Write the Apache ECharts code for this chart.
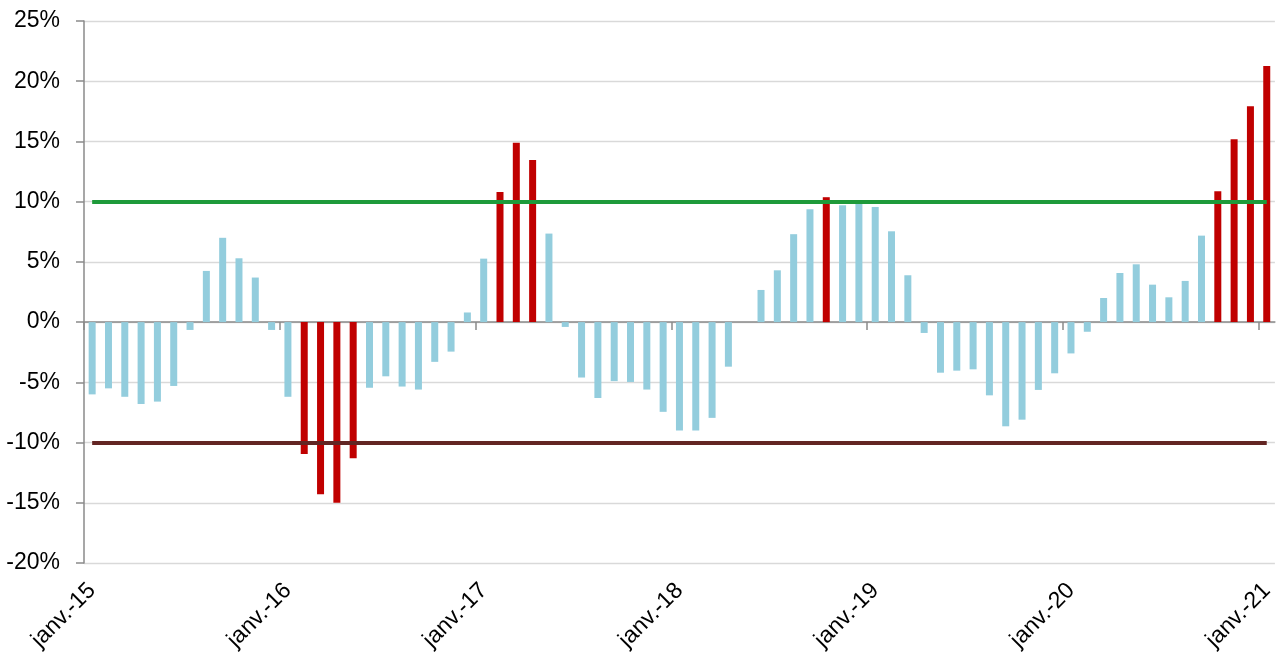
<!DOCTYPE html>
<html>
<head>
<meta charset="utf-8">
<script src="https://cdn.jsdelivr.net/npm/echarts@6/dist/echarts.min.js"></script>
<style>
html,body{margin:0;padding:0;background:#fff;}
#chart{width:1277px;height:661px;}
</style>
</head>
<body>
<div id="chart"></div>
<script>
// Categories: monthly, janv.-15 .. janv.-21
const monthNames = ['janv.','févr.','mars','avr.','mai','juin','juil.','août','sept.','oct.','nov.','déc.'];
const years = ['15','16','17','18','19','20','21'];
const categories = [];
years.forEach(function(y, yi){
  monthNames.forEach(function(m, mi){
    if (yi < years.length - 1 || mi === 0) categories.push(m + '-' + y);
  });
});

// Year-on-year change, %
const values2015 = [-6.0, -5.5, -6.2, -6.8, -6.6, -5.3, -0.65, 4.25, 7.0, 5.3, 3.7, -0.65];
const values2016 = [-6.2, -10.95, -14.3, -15.0, -11.3, -5.45, -4.5, -5.35, -5.6, -3.3, -2.45, 0.8];
const values2017 = [5.27, 10.8, 14.9, 13.45, 7.35, -0.4, -4.6, -6.3, -4.9, -4.97, -5.6, -7.45];
const values2018 = [-9.0, -9.0, -7.95, -3.7, 0, 2.67, 4.3, 7.3, 9.37, 10.37, 9.7, 9.85];
const values2019 = [9.56, 7.54, 3.89, -0.9, -4.2, -4.03, -3.92, -6.08, -8.65, -8.1, -5.63, -4.25];
const values2020 = [-2.6, -0.8, 2.0, 4.08, 4.8, 3.11, 2.06, 3.42, 7.18, 10.86, 15.18, 17.92];
const values2021 = [21.27];
const values = [].concat(values2015, values2016, values2017, values2018, values2019, values2020, values2021);

// Year boundaries (month index where each January starts) for the tick marks
const yearStartIndex = [0, 12, 24, 36, 48, 60, 72];

const upperThreshold = 10;
const lowerThreshold = -10;

const yMin = -20, yMax = 25, yInterval = 5;

const FONT = '"Liberation Sans", Arial, sans-serif';

const chart = echarts.init(document.getElementById('chart'), null, {renderer: 'canvas'});

chart.setOption({
  animation: false,
  backgroundColor: '#ffffff',
  grid: {left: 84, right: 2, top: 21, bottom: 98, containLabel: false},
  xAxis: [
    {
      type: 'category',
      data: categories,
      position: 'bottom',
      axisLine: {show: false, onZero: false},
      axisTick: {show: false},
      splitLine: {show: false},
      axisLabel: {
        interval: 11,
        rotate: 45,
        margin: 24,
        color: '#000000',
        fontFamily: FONT,
        fontSize: 23
      }
    },
    {
      type: 'value',
      min: 0,
      max: categories.length,
      interval: 12,
      position: 'bottom',
      axisLine: {show: true, onZero: true, onZeroAxisIndex: 0, lineStyle: {color: '#8a8a8a', width: 1.5}},
      axisTick: {show: true, length: 8, customValues: yearStartIndex, lineStyle: {color: '#8a8a8a', width: 1.5}},
      axisLabel: {show: false},
      splitLine: {show: false}
    }
  ],
  yAxis: {
    type: 'value',
    min: yMin,
    max: yMax,
    interval: yInterval,
    axisLine: {show: true, lineStyle: {color: '#8a8a8a', width: 1.5}},
    axisTick: {show: true, length: 8, lineStyle: {color: '#8a8a8a', width: 1.5}},
    splitLine: {show: true, lineStyle: {color: '#d9d9d9', width: 1.3}},
    axisLabel: {
      formatter: '{value}%',
      margin: 24,
      color: '#000000',
      fontFamily: FONT,
      fontSize: 23
    }
  },
  series: [
    {
      type: 'bar',
      xAxisIndex: 0,
      data: values,
      barWidth: 7,
      itemStyle: {
        color: function(p){
          return (p.value > upperThreshold || p.value < lowerThreshold) ? '#C00000' : '#93CDDD';
        }
      },
      markLine: {
        silent: true,
        symbol: 'none',
        label: {show: false},
        data: [
          [
            {coord: [categories[0], upperThreshold], lineStyle: {color: '#1E9A3A', width: 4, type: 'solid'}},
            {coord: [categories[categories.length - 1], upperThreshold]}
          ],
          [
            {coord: [categories[0], lowerThreshold], lineStyle: {color: '#632523', width: 4, type: 'solid'}},
            {coord: [categories[categories.length - 1], lowerThreshold]}
          ]
        ]
      }
    }
  ]
});
</script>
</body>
</html>
